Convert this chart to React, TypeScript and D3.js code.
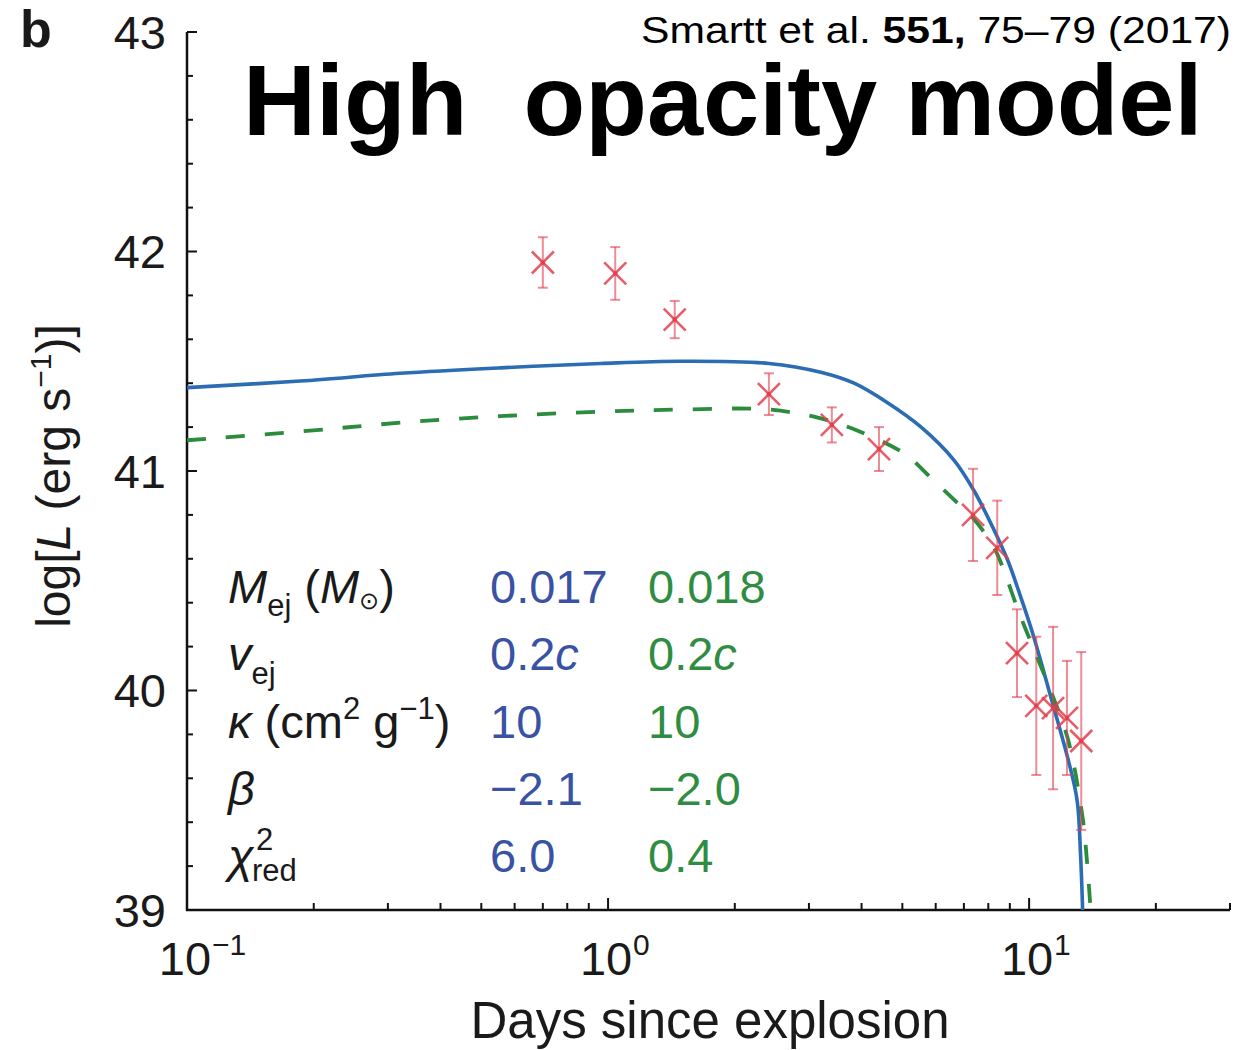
import React from 'react';
import * as d3 from 'd3';

// Observed data (days since explosion, log L, error)
const obsDays = [0.70, 1.04, 1.44, 2.41, 3.40, 4.40, 7.36, 8.40, 9.36, 10.4, 11.4, 12.3, 13.3];
const obsLogL = [41.95, 41.90, 41.69, 41.35, 41.21, 41.10, 40.80, 40.65, 40.17, 39.93, 39.92, 39.875, 39.77];
const obsErr = [0.115, 0.12, 0.085, 0.095, 0.08, 0.10, 0.21, 0.215, 0.20, 0.315, 0.37, 0.26, 0.405];

// Blue model (solid)
const blueDays = [0.1, 0.186, 0.321, 0.556, 0.96, 1.48, 2.41, 3.2, 3.84, 4.62, 5.54, 6.63, 7.40, 8.26, 8.91, 9.42, 10.2, 11.3, 12.4, 13.0, 13.25, 13.4];
const blueLogL = [41.38, 41.41, 41.445, 41.47, 41.49, 41.50, 41.49, 41.45, 41.40, 41.31, 41.20, 41.05, 40.91, 40.73, 40.59, 40.46, 40.26, 39.96, 39.68, 39.50, 39.25, 39.0];

// Green model (dashed)
const greenDays = [0.1, 0.186, 0.321, 0.556, 0.96, 1.48, 2.41, 3.2, 3.84, 5.05, 5.84, 6.63, 7.40, 8.26, 8.7, 9.4, 10.2, 11.3, 12.4, 13.4, 13.7, 14.0];
const greenLogL = [41.14, 41.18, 41.22, 41.25, 41.27, 41.28, 41.28, 41.24, 41.19, 41.08, 40.97, 40.87, 40.78, 40.65, 40.55, 40.37, 40.20, 39.99, 39.77, 39.42, 39.24, 39.0];

// Tick labels
const xMajorValues = [0.1, 1, 10];
const xMajorExponents = ['\u22121', '0', '1'];
const yMajorValues = [39, 40, 41, 42, 43];

// Parameter table
const paramBlue = ['0.017', '0.2c', '10', '\u22122.1', '6.0'];
const paramGreen = ['0.018', '0.2c', '10', '\u22122.0', '0.4'];

const FONT = "'Liberation Sans', Arial, Helvetica, sans-serif";
const BLUE_LINE = '#2b6cb3';
const GREEN_LINE = '#2a8c3c';
const BLUE_TEXT = '#3a52a3';
const GREEN_TEXT = '#2f8d42';
const RED = '#e2404e';

function Val({ v, x, y, color }: { v: string; x: number; y: number; color: string }) {
  if (v.endsWith('c')) {
    return (
      <text x={x} y={y} fill={color}>
        {v.slice(0, -1)}
        <tspan fontStyle="italic">c</tspan>
      </text>
    );
  }
  return (
    <text x={x} y={y} fill={color}>
      {v}
    </text>
  );
}

export default function App() {
  const x = d3.scaleLog().domain([0.1, 30]).range([187, 1230]);
  const y = d3.scaleLinear().domain([39, 43]).range([910, 32]);
  const line = d3
    .line<[number, number]>()
    .x((d) => x(d[0]))
    .y((d) => y(d[1]))
    .curve(d3.curveCatmullRom.alpha(0.5));
  const bluePath = line(blueDays.map((d, i) => [d, blueLogL[i]] as [number, number])) || '';
  const greenPath = line(greenDays.map((d, i) => [d, greenLogL[i]] as [number, number])) || '';

  const xTicks = x.ticks();
  const yTicks = y.ticks(20);
  const isMajorX = (t: number) => Math.abs(Math.log10(t) - Math.round(Math.log10(t))) < 1e-6;
  const isMajorY = (t: number) => Math.abs(t - Math.round(t)) < 1e-6;

  const rowY = [603, 670, 738, 805, 872];
  const labelX = 228;
  const blueX = 490;
  const greenX = 648;
  const fs = 47;

  return (
    <svg
      width={1252}
      height={1050}
      style={{ position: 'absolute', left: 0, top: 0, display: 'block', background: '#fff' }}
      fontFamily={FONT}
    >
      <rect x={0} y={0} width={1252} height={1050} fill="#fff" />
      <defs>
        <clipPath id="plotClip">
          <rect x={187} y={0} width={1043} height={910} />
        </clipPath>
      </defs>
      {/* panel letter */}
      <text x={20} y={47} fontSize={52} fontWeight="bold" fill="#1a1a1a">b</text>

      {/* citation */}
      <text x={641} y={43} fontSize={37} fill="#000" textLength={590} lengthAdjust="spacingAndGlyphs">
        Smartt et al. <tspan fontWeight="bold">551,</tspan> 75–79 (2017)
      </text>

      {/* title */}
      <text x={243} y={135} fontSize={101} fontWeight="bold" fill="#000" style={{ whiteSpace: 'pre' }}>
        {'High  opacity model'}
      </text>

      {/* axes */}
      <line x1={187} y1={32} x2={187} y2={911} stroke="#111" strokeWidth={2.5} />
      <line x1={186} y1={910} x2={1230} y2={910} stroke="#111" strokeWidth={2.5} />

      {yTicks.map((t, i) => (
        <line
          key={'yt' + i}
          x1={187}
          x2={187 + (isMajorY(t) ? 10 : 6)}
          y1={y(t)}
          y2={y(t)}
          stroke="#111"
          strokeWidth={2}
        />
      ))}
      {xTicks.map((t, i) => (
        <line
          key={'xt' + i}
          x1={x(t)}
          x2={x(t)}
          y1={910}
          y2={910 - (isMajorX(t) ? 12 : 7)}
          stroke="#111"
          strokeWidth={2}
        />
      ))}

      {yMajorValues.map((v) => (
        <text key={'yl' + v} x={166} y={y(v)} dy="0.36em" fontSize={fs} textAnchor="end" fill="#1a1a1a">
          {v}
        </text>
      ))}
      {xMajorValues.map((v, i) => (
        <g key={'xl' + v} fill="#1a1a1a">
          <text x={x(v) - 2} y={975} fontSize={fs} textAnchor="middle">10</text>
          <text x={x(v) + 25} y={955} fontSize={30}>{xMajorExponents[i]}</text>
        </g>
      ))}

      {/* axis titles */}
      <text x={710} y={1038} fontSize={51} textAnchor="middle" fill="#1a1a1a">
        Days since explosion
      </text>
      <text transform="translate(70,476) rotate(-90)" fontSize={48} textAnchor="middle" fill="#1a1a1a">
        log[<tspan fontStyle="italic">L</tspan> (erg s<tspan fontSize={30} dy={-19}>{'\u22121'}</tspan>
        <tspan dy={19}>)]</tspan>
      </text>

      {/* model curves */}
      <g clipPath="url(#plotClip)">
        <path d={bluePath} fill="none" stroke={BLUE_LINE} strokeWidth={3.6} />
        <path d={greenPath} fill="none" stroke={GREEN_LINE} strokeWidth={3.8} strokeDasharray="19 20" />
      </g>

      {/* observations */}
      <g stroke={RED} fill="none">
        {obsDays.map((d, i) => {
          const cx = x(d);
          const cy = y(obsLogL[i]);
          const yt = y(obsLogL[i] + obsErr[i]);
          const yb = y(obsLogL[i] - obsErr[i]);
          return (
            <g key={'o' + i}>
              <g strokeOpacity={0.6} strokeWidth={2}>
                <line x1={cx} x2={cx} y1={yt} y2={yb} />
                <line x1={cx - 5} x2={cx + 5} y1={yt} y2={yt} />
                <line x1={cx - 5} x2={cx + 5} y1={yb} y2={yb} />
              </g>
              <g strokeOpacity={0.85} strokeWidth={2.6}>
                <line x1={cx - 11} x2={cx + 11} y1={cy - 11} y2={cy + 11} />
                <line x1={cx - 11} x2={cx + 11} y1={cy + 11} y2={cy - 11} />
              </g>
              <circle cx={cx} cy={cy} r={2.2} fill={RED} stroke="none" />
            </g>
          );
        })}
      </g>

      {/* parameter table */}
      <g fontSize={fs} fill="#1a1a1a">
        <text x={labelX} y={rowY[0]}>
          <tspan fontStyle="italic">M</tspan>
          <tspan fontSize={31} dy={13}>ej</tspan>
          <tspan dy={-13}> (</tspan>
          <tspan fontStyle="italic">M</tspan>
          <tspan fontSize={24} dy={6}>{'\u2299'}</tspan>
          <tspan dy={-6}>)</tspan>
        </text>
        <text x={labelX} y={rowY[1]}>
          <tspan fontStyle="italic">v</tspan>
          <tspan fontSize={31} dy={14}>ej</tspan>
        </text>
        <text x={labelX} y={rowY[2]}>
          <tspan fontStyle="italic">κ</tspan> (cm
          <tspan fontSize={31} dy={-19}>2</tspan>
          <tspan dy={19}> g</tspan>
          <tspan fontSize={31} dy={-19}>{'\u22121'}</tspan>
          <tspan dy={19}>)</tspan>
        </text>
        <text x={labelX} y={rowY[3]}>
          <tspan fontStyle="italic">β</tspan>
        </text>
        <text x={labelX} y={rowY[4]}>
          <tspan fontStyle="italic">χ</tspan>
        </text>
        <text x={256} y={rowY[4] - 22} fontSize={31}>2</text>
        <text x={252} y={rowY[4] + 9} fontSize={31}>red</text>
      </g>
      <g fontSize={fs}>
        {paramBlue.map((v, i) => (
          <Val key={'pb' + i} v={v} x={blueX} y={rowY[i]} color={BLUE_TEXT} />
        ))}
        {paramGreen.map((v, i) => (
          <Val key={'pg' + i} v={v} x={greenX} y={rowY[i]} color={GREEN_TEXT} />
        ))}
      </g>
    </svg>
  );
}
